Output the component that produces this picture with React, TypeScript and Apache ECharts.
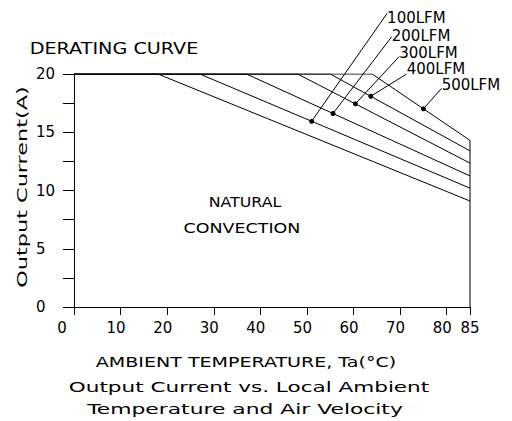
import { useEffect, useRef } from 'react';
import * as echarts from 'echarts';

// Derating curves: flat at rated current, then linear derating to 85 °C
const curveNames = ['NATURAL CONVECTION', '100LFM', '200LFM', '300LFM', '400LFM', '500LFM'];
const ratedCurrent = 20;
const maxTemp = 85;
const derateStartT = [18, 27, 37, 48, 55, 64];
const currentAtMaxT = [9.1, 10.2, 11.25, 12.35, 13.4, 14.3];

// Airflow call-outs: marker on the curve and the end of the leader line
const airflowLabels = ['100LFM', '200LFM', '300LFM', '400LFM', '500LFM'];
const markerT = [51, 55.6, 60.4, 63.7, 75];
const markerA = [15.94, 16.61, 17.44, 18.09, 17.01];
const leaderT = [67.2, 68.2, 69.8, 71.4, 78.9];
const leaderA = [25.2, 23.2, 21.5, 20.0, 18.77];

const yLabelValues = [0, 5, 10, 15, 20];

const FONT = '"DejaVu Sans", "Noto Sans", sans-serif';
const labelDy = [5, -1, -4, -5, -3];

export default function App() {
  const ref = useRef<HTMLDivElement>(null);
  useEffect(() => {
    if (!ref.current) return;
    const chart = echarts.init(ref.current, undefined, { renderer: 'svg' });
    const black = '#000';
    const curveSeries = curveNames.map((name, i) => ({
      type: 'line',
      name,
      data: [
        [0, ratedCurrent],
        [derateStartT[i], ratedCurrent],
        [maxTemp, currentAtMaxT[i]],
      ],
      symbol: 'none',
      lineStyle: { color: black, width: 1 },
      silent: true,
      z: 3,
    }));
    const edgeSeries = {
      type: 'line',
      name: 'edge',
      data: [
        [maxTemp, 0],
        [maxTemp, currentAtMaxT[currentAtMaxT.length - 1]],
      ],
      symbol: 'none',
      lineStyle: { color: black, width: 1 },
      silent: true,
    };
    const leaderSeries = airflowLabels.map((name, i) => ({
      type: 'line',
      name: name + '-leader',
      clip: false,
      data: [
        { value: [markerT[i], markerA[i]], symbol: 'circle', symbolSize: 5 },
        {
          value: [leaderT[i], leaderA[i]],
          symbol: 'circle',
          symbolSize: 0.1,
          label: {
            show: true,
            position: 'right',
            distance: 0,
            offset: [0, labelDy[i]],
            formatter: name,
            color: black,
            fontFamily: FONT,
            fontSize: 15,
          },
        },
      ],
      showSymbol: true,
      itemStyle: { color: black },
      lineStyle: { color: black, width: 1 },
      silent: true,
      z: 4,
    }));

    const textStyle = (size: number) => ({
      fill: black,
      font: `normal ${size}px ${FONT}`,
      textAlign: 'center',
      textVerticalAlign: 'middle',
      align: 'center',
      verticalAlign: 'middle',
    });
    const txt = (text: string, x: number, y: number, size: number, sx: number, rot = 0) => ({
      type: 'text',
      x,
      y,
      scaleX: sx,
      rotation: rot,
      style: { ...textStyle(size), text },
    });

    chart.setOption({
      animation: false,
      backgroundColor: '#fff',
      grid: { left: 74, right: 42, top: 74, bottom: 114, containLabel: false },
      xAxis: {
        type: 'value',
        min: 0,
        max: maxTemp,
        interval: 10,
        splitLine: { show: false },
        axisLine: { show: true, onZero: false, lineStyle: { color: black, width: 1 } },
        axisTick: { show: true, length: 8, lineStyle: { color: black, width: 1 } },
        axisLabel: {
          margin: 13,
          color: black,
          showMinLabel: true,
          showMaxLabel: true,
          formatter: (v: number) =>
            v === 0 ? '{z|0}' : v === maxTemp ? '{e|' + v + '}' : '{n|' + v + '}',
          rich: {
            z: { fontFamily: FONT, fontSize: 15, color: black, padding: [0, 24, 0, 0] },
            n: { fontFamily: FONT, fontSize: 15, color: black, padding: [0, 9, 0, 0] },
            e: { fontFamily: FONT, fontSize: 15, color: black, padding: [0, 0, 0, 0] },
          },
        },
      },
      yAxis: {
        type: 'value',
        min: 0,
        max: ratedCurrent,
        interval: 2.5,
        splitLine: { show: false },
        axisLine: { show: true, onZero: false, lineStyle: { color: black, width: 1 } },
        axisTick: { show: true, length: 11, lineStyle: { color: black, width: 1 } },
        axisLabel: {
          align: 'left',
          margin: 38,
          color: black,
          fontFamily: FONT,
          fontSize: 15,
          formatter: (v: number) => (yLabelValues.includes(v) ? String(v) : ''),
        },
      },
      graphic: [
        txt('DERATING CURVE', 114, 49, 16, 1.2),
        txt('NATURAL', 245, 202, 14, 1.13),
        txt('CONVECTION', 242, 228, 14, 1.25),
        txt('AMBIENT TEMPERATURE, Ta(°C)', 246, 362, 14, 1.36),
        txt('Output Current vs. Local Ambient', 249, 387, 14, 1.54),
        txt('Temperature and Air Velocity', 245, 409, 14, 1.56),
        txt('Output Current(A)', 22, 187, 14, 1.6, Math.PI / 2),
      ],
      series: [...curveSeries, edgeSeries, ...leaderSeries],
    });
    return () => chart.dispose();
  }, []);
  return (
    <div
      ref={ref}
      style={{ position: 'fixed', left: 0, top: 0, width: 512, height: 421, background: '#fff' }}
    />
  );
}
